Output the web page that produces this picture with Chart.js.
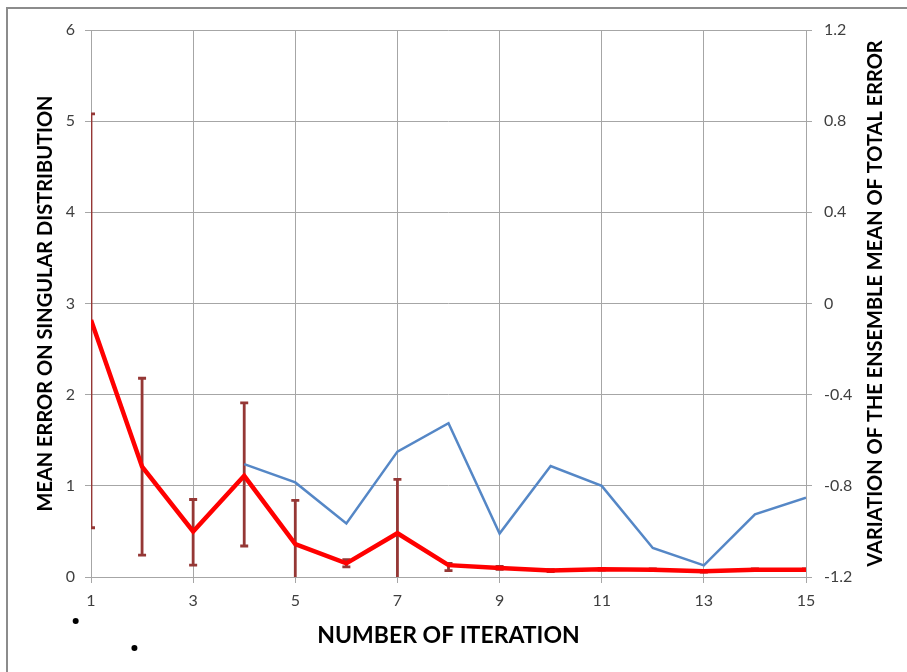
<!DOCTYPE html>
<html>
<head>
<meta charset="utf-8">
<script src="https://cdn.jsdelivr.net/npm/chart.js@4.4.0/dist/chart.umd.min.js"></script>
<style>
  html, body { margin: 0; padding: 0; background: #ffffff; }
  #wrap { width: 907px; height: 672px; }
</style>
</head>
<body>
<div id="wrap"><canvas id="chart" width="907" height="672"></canvas></div>
<script>
// Iteration numbers (x axis)
const iterations = [1, 2, 3, 4, 5, 6, 7, 8, 9, 10, 11, 12, 13, 14, 15];

// Mean error on singular distribution (left axis), with error-bar bounds
const meanError  = [2.82, 1.21, 0.50, 1.11, 0.36, 0.15, 0.48, 0.13, 0.10, 0.07, 0.085, 0.08, 0.062, 0.08, 0.08];
const errorLow   = [0.54, 0.24, 0.13, 0.34, -0.10, 0.11, -0.10, 0.07, 0.085, 0.06, 0.075, 0.07, 0.055, 0.07, 0.07];
const errorHigh  = [5.08, 2.18, 0.85, 1.91, 0.84, 0.19, 1.07, 0.15, 0.115, 0.08, 0.095, 0.09, 0.07, 0.09, 0.09];

// Variation of the ensemble mean of total error (right axis); starts at iteration 4
const ensembleVariation = [null, null, null, -0.705, -0.785, -0.965, -0.65, -0.525, -1.009, -0.713, -0.80, -1.073, -1.149, -0.925, -0.852];

// Tick values
const xTicks      = [1, 3, 5, 7, 9, 11, 13, 15];
const yLeftTicks  = [0, 1, 2, 3, 4, 5, 6];
const yRightTicks = [-1.2, -0.8, -0.4, 0, 0.4, 0.8, 1.2];

// Axis titles
const xTitle      = 'NUMBER OF ITERATION';
const yLeftTitle  = 'MEAN ERROR ON SINGULAR DISTRIBUTION';
const yRightTitle = 'VARIATION OF THE ENSEMBLE MEAN OF TOTAL ERROR';

const GRID = '#a6a6a6';
const TICK_FONT = { family: 'Lato, "Open Sans", sans-serif', size: 16 };
const TICK_COLOR = '#3f3f3f';

const redPoints = iterations.map((x, i) => ({ x: x, y: meanError[i] }));
const bluePoints = iterations
  .map((x, i) => ({ x: x, y: ensembleVariation[i] }))
  .filter(p => p.y !== null);

const fmtRight = v => (Math.abs(v) < 1e-9 ? '0' : (Math.round(v * 10) / 10).toFixed(1));

// Vertical error bars with flat caps, clipped to the plot area
const errorBars = {
  id: 'errorBars',
  beforeDatasetsDraw(chart) {
    const { ctx, chartArea, scales } = chart;
    const xs = scales.x, ys = scales.y;
    ctx.save();
    ctx.beginPath();
    ctx.rect(chartArea.left, chartArea.top, chartArea.right - chartArea.left, chartArea.bottom - chartArea.top);
    ctx.clip();
    ctx.strokeStyle = '#953735';
    ctx.lineWidth = 2.8;
    const cap = 4;
    iterations.forEach((it, i) => {
      const px = xs.getPixelForValue(it);
      const y0 = ys.getPixelForValue(errorLow[i]);
      const y1 = ys.getPixelForValue(errorHigh[i]);
      ctx.beginPath();
      ctx.moveTo(px, y0); ctx.lineTo(px, y1);
      ctx.moveTo(px - cap, y0); ctx.lineTo(px + cap, y0);
      ctx.moveTo(px - cap, y1); ctx.lineTo(px + cap, y1);
      ctx.stroke();
    });
    ctx.restore();
  }
};

// Axis titles, outer frame and the two small dots below the axis
const decorations = {
  id: 'decorations',
  afterDraw(chart) {
    const { ctx, chartArea, scales } = chart;
    const cx = (chartArea.left + chartArea.right) / 2;
    const cy = (chartArea.top + chartArea.bottom) / 2;
    ctx.save();
    ctx.fillStyle = '#000000';
    ctx.textAlign = 'center';
    ctx.textBaseline = 'middle';

    ctx.font = 'bold 23px Lato, "Open Sans", sans-serif';
    ctx.fillText(xTitle, cx, chartArea.bottom + 59);

    ctx.font = 'bold 20px Lato, "Open Sans", sans-serif';
    ctx.save();
    ctx.translate(chartArea.left - 45, cy);
    ctx.rotate(-Math.PI / 2);
    ctx.fillText(yLeftTitle, 0, 0);
    ctx.restore();

    ctx.save();
    ctx.translate(chartArea.right + 70, cy);
    ctx.rotate(-Math.PI / 2);
    ctx.fillText(yRightTitle, 0, 0);
    ctx.restore();

    // frame
    ctx.strokeStyle = '#8c8c8c';
    ctx.lineWidth = 2;
    ctx.beginPath();
    ctx.moveTo(7, chart.height);
    ctx.lineTo(7, 8);
    ctx.lineTo(chart.width, 8);
    ctx.stroke();

    // dots
    ctx.fillStyle = '#000000';
    [[0.7, 44], [1.85, 71]].forEach(([v, dy]) => {
      ctx.beginPath();
      ctx.arc(scales.x.getPixelForValue(v), chartArea.bottom + dy, 3, 0, Math.PI * 2);
      ctx.fill();
    });
    ctx.restore();
  }
};

new Chart(document.getElementById('chart'), {
  type: 'line',
  data: {
    datasets: [
      {
        label: 'Mean error',
        data: redPoints,
        yAxisID: 'y',
        borderColor: '#ff0000',
        borderWidth: 4.5,
        pointRadius: 0,
        tension: 0,
        fill: false
      },
      {
        label: 'Ensemble variation',
        data: bluePoints,
        yAxisID: 'y2',
        borderColor: '#5587c6',
        borderWidth: 2.5,
        pointRadius: 0,
        tension: 0,
        fill: false
      }
    ]
  },
  options: {
    responsive: false,
    animation: false,
    devicePixelRatio: 1,
    layout: { padding: { top: 30, left: 0, right: 0, bottom: 0 } },
    plugins: { legend: { display: false }, tooltip: { enabled: false } },
    scales: {
      x: {
        type: 'linear',
        min: 1, max: 15,
        afterBuildTicks: s => { s.ticks = xTicks.map(v => ({ value: v })); },
        afterFit: s => { s.height = 95; },
        grid: { color: GRID, lineWidth: 1, tickLength: 6, drawTicks: true },
        border: { display: false },
        ticks: { font: TICK_FONT, color: TICK_COLOR, padding: 8, maxRotation: 0, autoSkip: false }
      },
      y: {
        position: 'left',
        min: 0, max: 6,
        afterBuildTicks: s => { s.ticks = yLeftTicks.map(v => ({ value: v })); },
        afterFit: s => { s.width = 91; },
        grid: { color: GRID, lineWidth: 1, tickLength: 6 },
        border: { display: false },
        ticks: { font: TICK_FONT, color: TICK_COLOR, padding: 10 }
      },
      y2: {
        position: 'right',
        min: -1.2, max: 1.2,
        afterBuildTicks: s => { s.ticks = yRightTicks.map(v => ({ value: v })); },
        afterFit: s => { s.width = 101; },
        grid: { color: GRID, lineWidth: 1, tickLength: 6, drawOnChartArea: false },
        border: { display: false },
        ticks: { font: TICK_FONT, color: TICK_COLOR, padding: 12, callback: v => fmtRight(v) }
      }
    }
  },
  plugins: [errorBars, decorations]
});
</script>
</body>
</html>
